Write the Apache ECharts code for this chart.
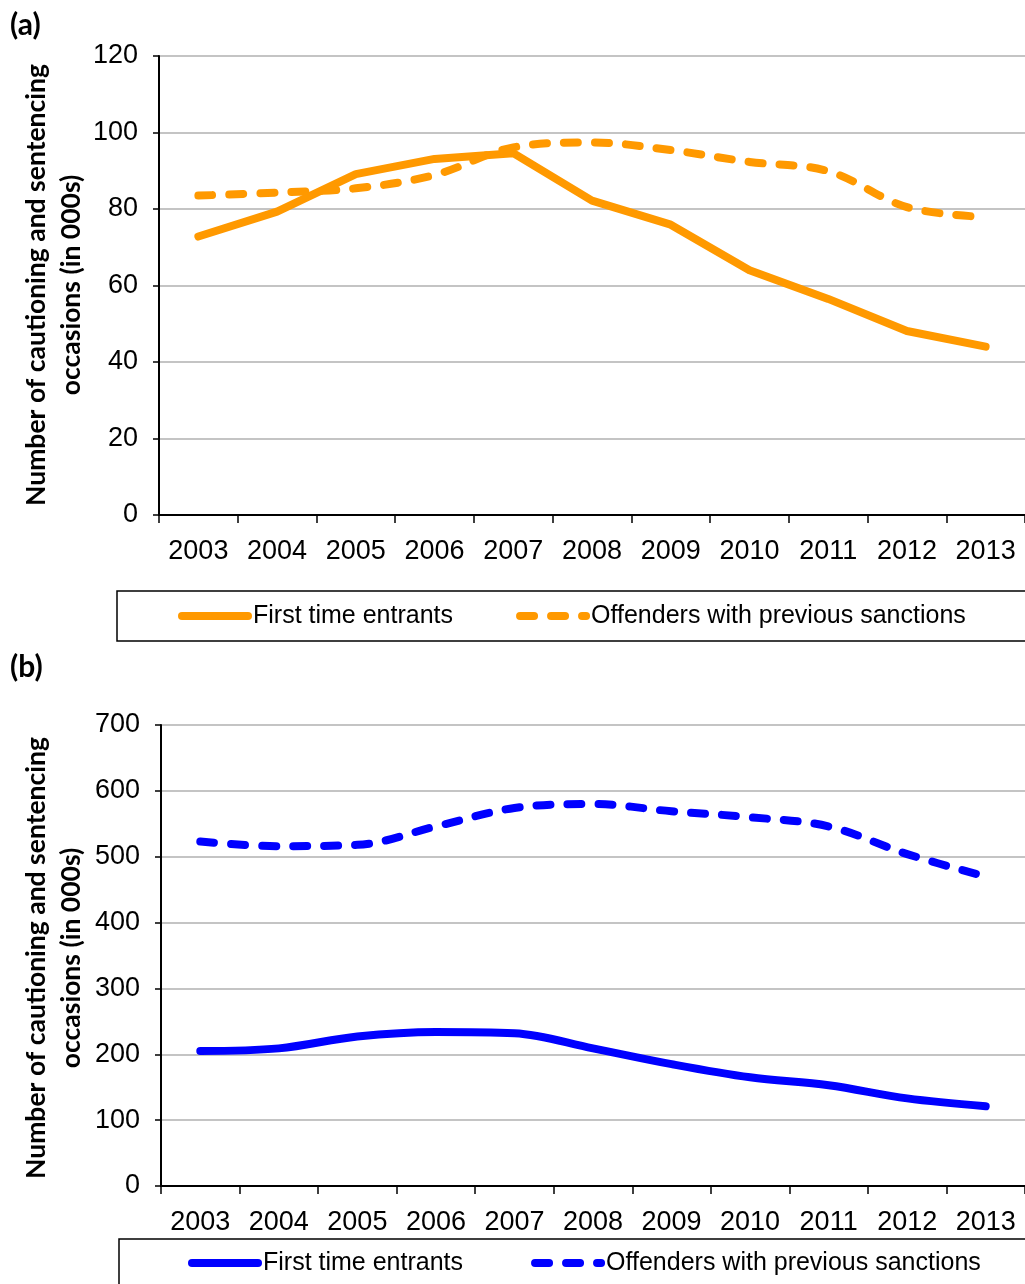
<!DOCTYPE html>
<html>
<head>
<meta charset="utf-8">
<script src="https://cdn.jsdelivr.net/npm/echarts@6/dist/echarts.min.js"></script>
<style>
  html, body { margin: 0; padding: 0; background: #fff; }
  #chart { width: 1025px; height: 1284px; }
</style>
</head>
<body>
<div id="chart"></div>
<script>
// ---- data ----
const years = ['2003', '2004', '2005', '2006', '2007', '2008', '2009', '2010', '2011', '2012', '2013'];
const firstTimeA = [72.8, 79.3, 89.1, 93.1, 94.6, 82.2, 75.9, 64.0, 56.5, 48.1, 44.0];
const previousA = [83.5, 84.3, 85.4, 88.9, 96.1, 97.4, 95.4, 92.3, 89.9, 80.5, 77.9];
const firstTimeB = [205, 209, 227, 234, 232, 209, 185, 165, 153, 133, 121];
const previousB = [523, 516, 518, 546, 574, 580, 569, 560, 546, 504, 470];
const seriesNames = ['First time entrants', 'Offenders with previous sanctions'];
const yTitle = 'Number of cautioning and sentencing\noccasions (in 000s)';

const ORANGE = '#FF9900';
const BLUE = '#0000FF';
const tickFont = { fontFamily: 'Liberation Sans, Arial, sans-serif', fontSize: 27, color: '#000' };

function xAxis(gridIndex) {
  return {
    type: 'category', gridIndex, data: years, boundaryGap: true,
    axisLine: { lineStyle: { color: '#000', width: 2 } },
    axisTick: { show: true, length: 8, lineStyle: { color: '#000', width: 1.5 } },
    axisLabel: Object.assign({ margin: 23 }, tickFont)
  };
}
function yAxis(gridIndex, max, interval) {
  return {
    type: 'value', gridIndex, min: 0, max, interval,
    axisLine: { show: true, lineStyle: { color: '#000', width: 2 } },
    axisTick: { show: true, length: 6, lineStyle: { color: '#000', width: 1.5 } },
    axisLabel: Object.assign({ margin: 21 }, tickFont),
    splitLine: { show: true, lineStyle: { color: '#C4C4C4', width: 2 } }
  };
}
function line(name, data, idx, color, dashed, smooth) {
  return {
    type: 'line', name, data, xAxisIndex: idx, yAxisIndex: idx,
    symbol: 'none', smooth,
    lineStyle: { color, width: 8, type: dashed ? [14, 17] : 'solid', cap: 'round', join: 'round' },
    itemStyle: { color }
  };
}
function legend(names, left, top, gap) {
  return {
    data: names, left, top, orient: 'horizontal',
    padding: 0, itemGap: gap, itemWidth: 66, itemHeight: 8,
    formatter: n => n.slice(2),
    textStyle: { fontFamily: 'Liberation Sans, Arial, sans-serif', fontSize: 25, color: '#000', lineHeight: 26 },
    lineStyle: { width: 8, cap: 'round' }
  };
}
const titleStyle = { fontFamily: 'Lato, sans-serif', fontWeight: 'bold', fontSize: 26.5, fill: '#000', lineHeight: 35 };

const chart = echarts.init(document.getElementById('chart'), null, { renderer: 'canvas' });
chart.setOption({
  animation: false,
  backgroundColor: '#fff',
  grid: [
    { left: 159, top: 56, right: 0, height: 459, containLabel: false },
    { left: 161, top: 725, right: 0, height: 461, containLabel: false }
  ],
  xAxis: [xAxis(0), xAxis(1)],
  yAxis: [yAxis(0, 120, 20), yAxis(1, 700, 100)],
  legend: [
    legend(['a:' + seriesNames[0], 'a:' + seriesNames[1]], 178, 603, 63),
    legend(['b:' + seriesNames[0], 'b:' + seriesNames[1]], 188, 1250, 68)
  ],
  series: [
    line('a:' + seriesNames[0], firstTimeA, 0, ORANGE, false, false),
    line('a:' + seriesNames[1], previousA, 0, ORANGE, true, 0.35),
    line('b:' + seriesNames[0], firstTimeB, 1, BLUE, false, 0.35),
    line('b:' + seriesNames[1], previousB, 1, BLUE, true, 0.35)
  ],
  graphic: [
    { type: 'rect', z: -1, shape: { x: 117, y: 591, width: 1000, height: 50 },
      style: { fill: '#fff', stroke: '#000', lineWidth: 1.5 } },
    { type: 'rect', z: -1, shape: { x: 119, y: 1239, width: 1000, height: 100 },
      style: { fill: '#fff', stroke: '#000', lineWidth: 1.5 } },
    { type: 'text', x: 10, y: 10, style: { text: '(a)', font: 'bold 30px Lato, sans-serif', fill: '#000' } },
    { type: 'text', x: 10, y: 652, style: { text: '(b)', font: 'bold 30px Lato, sans-serif', fill: '#000' } },
    { type: 'text', x: 54, y: 285, rotation: Math.PI / 2,
      style: Object.assign({ text: yTitle, align: 'center', verticalAlign: 'middle' }, titleStyle) },
    { type: 'text', x: 54, y: 958, rotation: Math.PI / 2,
      style: Object.assign({ text: yTitle, align: 'center', verticalAlign: 'middle' }, titleStyle) }
  ]
});
</script>
</body>
</html>
